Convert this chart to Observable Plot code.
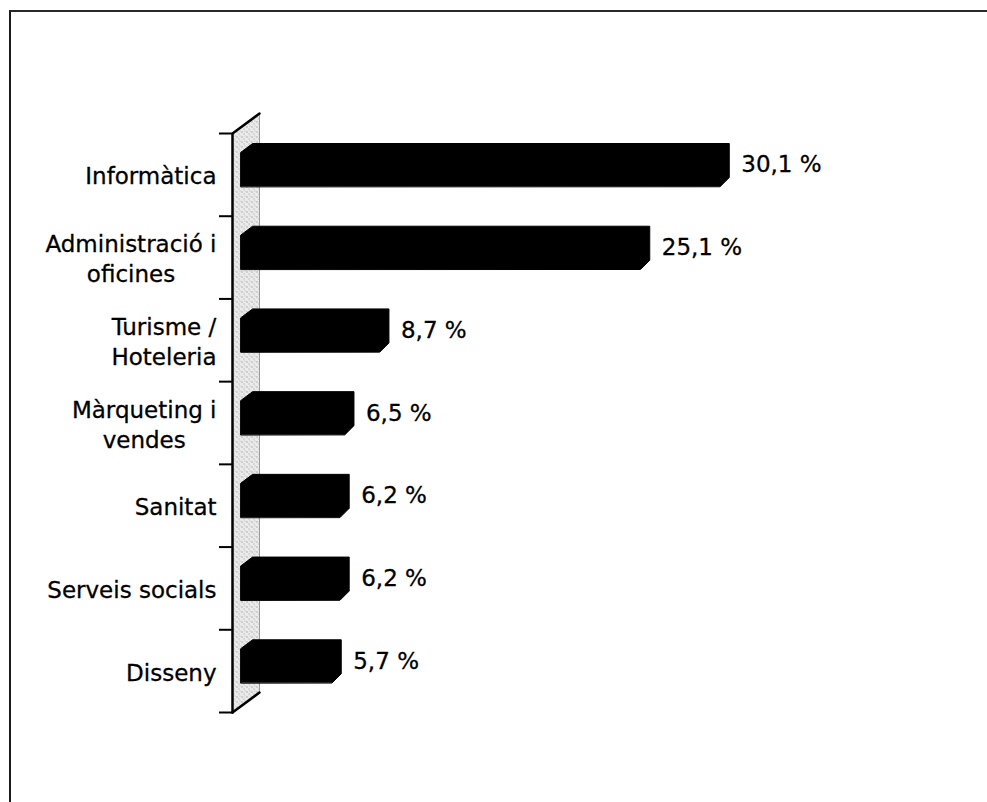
<!DOCTYPE html>
<html>
<head>
<meta charset="utf-8">
<script src="https://cdn.jsdelivr.net/npm/d3@7"></script>
<script src="https://cdn.jsdelivr.net/npm/@observablehq/plot@0.6"></script>
<style>
  html, body { margin: 0; padding: 0; background: #fff; }
  #page { position: relative; width: 987px; height: 802px; overflow: hidden; }
  #frame { position: absolute; left: 9px; top: 10px; width: 1200px; height: 1000px;
           border-top: 2px solid #2a2a2a; border-left: 2px solid #1a1a1a; }
  #chart { position: absolute; left: 0; top: 0; }
</style>
</head>
<body>
<div id="page"><div id="frame"></div><div id="chart"></div></div>
<script>
// ---- data ----
const categories = ["Informàtica", "Administració i\noficines", "Turisme /\nHoteleria",
                    "Màrqueting i\nvendes", "Sanitat", "Serveis socials", "Disseny"];
const values = [30.1, 25.1, 8.7, 6.5, 6.2, 6.2, 5.7];
const valueLabels = values.map(v => v.toFixed(1).replace(".", ",") + " %");

// ---- layout ----
const W = 987, H = 802, mL = 200, mR = 100, mT = 133, mB = 90;
const xMin = -3.15, xMax = 40.05, n = categories.length;
const kx = (W - mL - mR) / (xMax - xMin);   // px per unit x
const ky = (H - mT - mB) / n;               // px per band
const ux = px => px / kx, uy = px => px / ky;
const xAt = px => xMin + (px - mL) / kx;
const FONT = 23, LABEL_RIGHT = 216;

const front = xAt(232);          // front edge of the 3D wall
const depthX = ux(27), depthY = uy(20);

const wallPoly = [
  {x: front, y: n}, {x: front, y: 0},
  {x: front + depthX, y: -depthY}, {x: front + depthX, y: n - depthY}
];
const wallLeftTop = [{x: front, y: n}, {x: front, y: 0}, {x: front + depthX, y: -depthY}];
const wallBottom = [{x: front, y: n}, {x: front + depthX, y: n - depthY}];
const wallRight = [{x: front + depthX, y: -depthY}, {x: front + depthX, y: n - depthY}];

const barPts = [];
values.forEach((v, i) => {
  const top = i + uy(10), bot = i + uy(53);
  [[-ux(10), bot], [-ux(10), top + uy(9)], [ux(2), top], [v, top],
   [v, bot - uy(9)], [v - ux(9), bot]].forEach(([x, y]) => barPts.push({id: i, x, y}));
});

// category labels: each block right-aligned, lines centred within the block
const ctx = document.createElement("canvas").getContext("2d");
ctx.font = `${FONT}px "DejaVu Sans"`;
const labelRows = categories.map((c, i) => {
  const w = d3.max(c.split("\n"), s => ctx.measureText(s).width);
  return {c, y: i + 0.5, x: xAt(LABEL_RIGHT - w / 2)};
});
const bands = d3.range(n);
const valueRows = values.map((v, i) => ({v, t: valueLabels[i], y: i + uy(31.5)}));

const chart = Plot.plot({
  width: W, height: H,
  marginLeft: mL, marginRight: mR, marginTop: mT, marginBottom: mB,
  x: {domain: [xMin, xMax], axis: null},
  y: {domain: [0, n], reverse: true, axis: null},
  style: {fontFamily: "DejaVu Sans", fontSize: "23px", color: "black", background: "transparent", overflow: "visible"},
  marks: [
    Plot.line(wallPoly, {x: "x", y: "y", fill: "#e3e3e3", stroke: "none", curve: "linear-closed", className: "wall"}),
    Plot.line(wallRight, {x: "x", y: "y", stroke: "#9a9a9a", strokeWidth: 1}),
    Plot.line(barPts, {x: "x", y: "y", z: "id", fill: "black", stroke: "black", strokeWidth: 1, curve: "linear-closed"}),
    Plot.line(wallLeftTop, {x: "x", y: "y", stroke: "black", strokeWidth: 2.5, strokeLinejoin: "miter"}),
    Plot.line(wallBottom, {x: "x", y: "y", stroke: "black", strokeWidth: 2.5}),
    Plot.ruleY(bands.concat([n]), {x1: front - ux(13), x2: front, stroke: "black", strokeWidth: 2}),
    Plot.text(labelRows, {x: "x", y: "y", text: "c", textAnchor: "middle",
                          lineHeight: 1.3, fontSize: FONT, fill: "black", stroke: "black", strokeWidth: 0.3}),
    Plot.text(valueRows, {x: "v", y: "y", text: "t", dx: 12, textAnchor: "start", fontSize: FONT,
                          fill: "black", stroke: "black", strokeWidth: 0.3})
  ]
});

// light stippled texture for the wall
const svg = d3.select(chart);
const defs = svg.insert("defs", ":first-child");
const pat = defs.append("pattern").attr("id", "stipple").attr("width", 5).attr("height", 5)
  .attr("patternUnits", "userSpaceOnUse");
pat.append("rect").attr("width", 5).attr("height", 5).attr("fill", "#ebebeb");
pat.append("rect").attr("x", 1).attr("y", 1).attr("width", 1).attr("height", 1).attr("fill", "#7a7a7a");
pat.append("rect").attr("x", 3).attr("y", 3).attr("width", 1).attr("height", 1).attr("fill", "#a0a0a0");
pat.append("rect").attr("x", 4).attr("y", 0).attr("width", 1).attr("height", 1).attr("fill", "#b8b8b8");
svg.selectAll(".wall path").attr("fill", "url(#stipple)");

document.getElementById("chart").appendChild(chart);
</script>
</body>
</html>
